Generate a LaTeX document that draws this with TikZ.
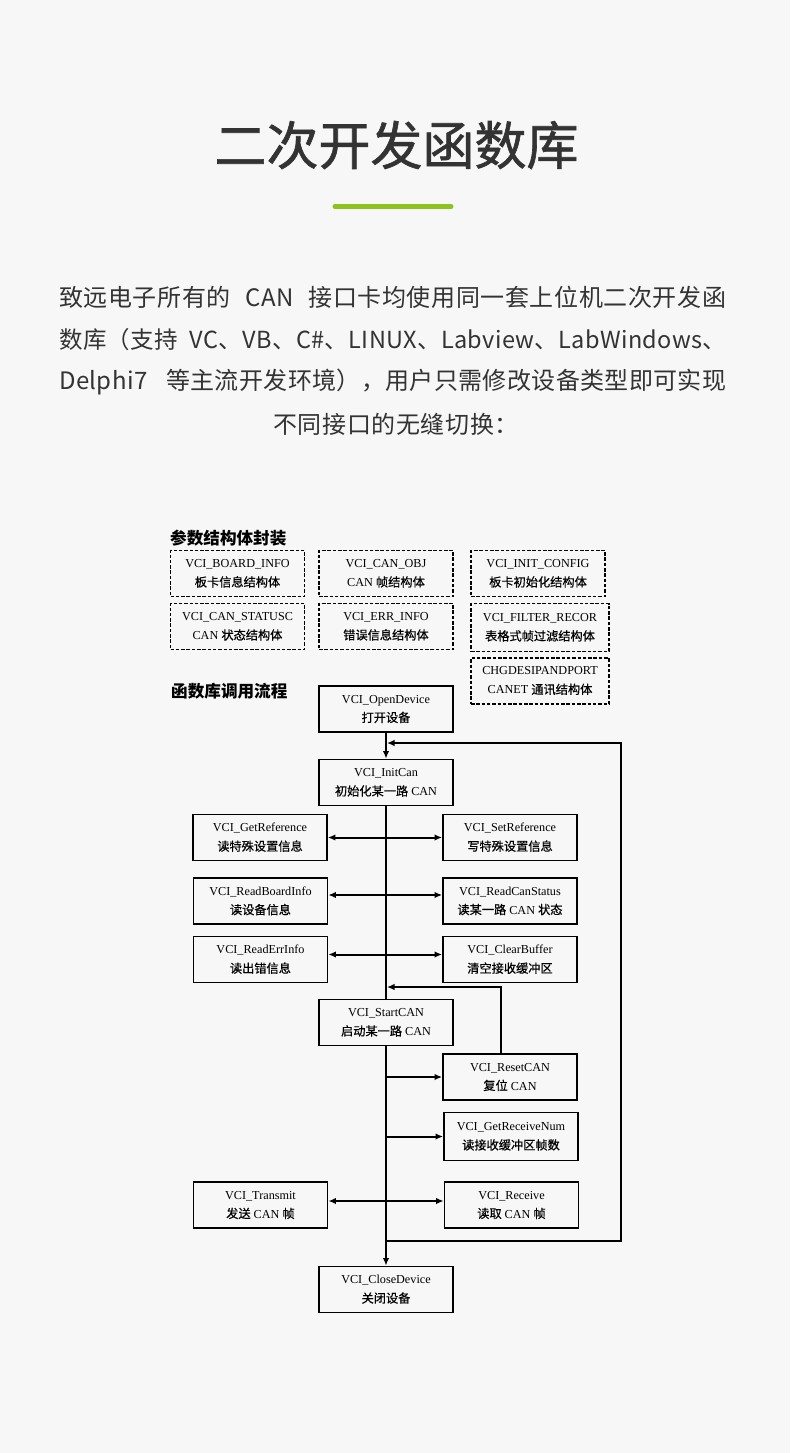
\documentclass[tikz,border=0pt]{standalone}
\usepackage{fontspec}
\setmainfont{Liberation Serif}
\newfontfamily\cjk{Noto Sans CJK SC}
\newfontfamily\cjkbody[LetterSpace=2.5]{Noto Sans CJK SC}
\newfontfamily\cjkbodytight[LetterSpace=1.5]{Noto Sans CJK SC}
\newfontfamily\cjktitle[FakeBold=1.2]{Noto Sans CJK SC}
\newfontfamily\cjkbox[FakeBold=0.6]{Noto Sans CJK SC}
\usetikzlibrary{arrows.meta}
\definecolor{bgcol}{RGB}{247,247,247}
\definecolor{txtcol}{RGB}{51,51,51}
\definecolor{barcol}{RGB}{141,194,31}
\newcommand{\zh}[1]{{\cjkbox #1}}

\begin{document}
\begin{tikzpicture}[x=1pt, y=-1pt,
  para/.style={inner sep=0pt, text=txtcol, font=\cjkbody\fontsize{24}{24}\selectfont},
  head/.style={anchor=west, inner sep=0pt, font=\cjk\bfseries\fontsize{16.6}{16.6}\selectfont},
  box/.style={draw, line width=1.8pt, align=center, inner sep=0pt, minimum width=134pt, minimum height=46pt, font=\fontsize{12.2}{19}\selectfont},
  dbox/.style={box, line width=1.9pt, dash pattern=on 3.5pt off 1.8pt},
  link/.style={line width=2pt, -{Latex[length=7.5pt,width=6.5pt]}},
  both/.style={link, {Latex[length=7.5pt,width=6.5pt]}-{Latex[length=7.5pt,width=6.5pt]}}]
\fill[bgcol] (0,0) rectangle (790,1453);
% Title and text
\node[text=txtcol, font=\cjktitle\fontsize{52}{52}\selectfont] (title) at (396.5,145) {二次开发函数库};
\draw[barcol, line width=5pt, line cap=round] (335,206.5) -- (451,206.5);
\node[para, anchor=west] (p1) at (59,297.5) {\makebox[667pt][s]{致远电子所有的 CAN 接口卡均使用同一套上位机二次开发函}};
\node[para, anchor=west, font=\cjkbodytight\fontsize{23.5}{23.5}\selectfont] (p2) at (59,340) {\makebox[667pt][s]{数库（支持 VC、VB、C\#、LINUX、Labview、LabWindows、}};
\node[para, anchor=west, font=\cjkbodytight\fontsize{24}{24}\selectfont] (p3) at (59,382) {\makebox[667pt][s]{Delphi7 \ 等主流开发环境），用户只需修改设备类型即可实现}};
\node[para] (p4) at (396,424) {不同接口的无缝切换：};
% Structures
\node[head] (h1) at (170,538) {参数结构体封装};
\node[dbox] (boardinfo) at (237.5,573.5) {VCI\_BOARD\_INFO\\\zh{板卡信息结构体}};
\node[dbox] (canobj) at (386,573.5) {VCI\_CAN\_OBJ\\CAN \zh{帧结构体}};
\node[dbox] (initcfg) at (538,573.5) {VCI\_INIT\_CONFIG\\\zh{板卡初始化结构体}};
\node[dbox] (canstatus) at (237.5,626.5) {VCI\_CAN\_STATUSC\\CAN \zh{状态结构体}};
\node[dbox] (errinfo) at (386,626.5) {VCI\_ERR\_INFO\\\zh{错误信息结构体}};
\node[dbox, minimum width=138pt, minimum height=48pt] (filter) at (540,627.5) {VCI\_FILTER\_RECOR\\\zh{表格式帧过滤结构体}};
\node[dbox, minimum width=138pt] (chgdes) at (540,681) {CHGDESIPANDPORT\\CANET \zh{通讯结构体}};
% Call flow
\node[head] (h2) at (171,691) {函数库调用流程};
\node[box] (opendev) at (386,709) {VCI\_OpenDevice\\\zh{打开设备}};
\node[box] (initcan) at (386,782.5) {VCI\_InitCan\\\zh{初始化某一路} CAN};
\node[box] (getref) at (260,837.5) {VCI\_GetReference\\\zh{读特殊设置信息}};
\node[box] (setref) at (510,837.5) {VCI\_SetReference\\\zh{写特殊设置信息}};
\node[box] (readboard) at (260.5,901) {VCI\_ReadBoardInfo\\\zh{读设备信息}};
\node[box] (readstatus) at (510,901) {VCI\_ReadCanStatus\\\zh{读某一路} CAN \zh{状态}};
\node[box] (readerr) at (260.5,959.5) {VCI\_ReadErrInfo\\\zh{读出错信息}};
\node[box] (clearbuf) at (510,959.5) {VCI\_ClearBuffer\\\zh{清空接收缓冲区}};
\node[box] (startcan) at (386,1022.5) {VCI\_StartCAN\\\zh{启动某一路} CAN};
\node[box] (resetcan) at (510,1077) {VCI\_ResetCAN\\\zh{复位} CAN};
\node[box, minimum height=48pt] (getrecv) at (511,1136.5) {VCI\_GetReceiveNum\\\zh{读接收缓冲区帧数}};
\node[box] (transmit) at (260.5,1205) {VCI\_Transmit\\\zh{发送} CAN \zh{帧}};
\node[box] (receive) at (511.5,1205) {VCI\_Receive\\\zh{读取} CAN \zh{帧}};
\node[box] (closedev) at (386,1289.5) {VCI\_CloseDevice\\\zh{关闭设备}};
% Loop points
\coordinate (loopin) at (387,743);
\coordinate (loopout) at (386,1241);
\coordinate (loopedge) at (621,743);
\coordinate (resetin) at (387,987);
% Main line
\draw[link] (opendev) -- (initcan);
\draw[line width=2pt] (initcan) -- (startcan);
\draw[link] (startcan) -- (closedev);
% Side calls
\draw[both] (getref) -- (setref);
\draw[both] ([yshift=6pt]readboard.east) -- ([yshift=6pt]readstatus.west);
\draw[both] ([yshift=5pt]readerr.east) -- ([yshift=5pt]clearbuf.west);
\draw[both] ([yshift=4pt]transmit.east) -- ([yshift=4pt]receive.west);
\draw[link] (initcan.south |- resetcan.west) -- (resetcan.west);
\draw[link] (initcan.south |- getrecv.west) -- (getrecv.west);
% Loops back
\draw[link] ([xshift=-9pt]resetcan.north) |- (resetin);
\draw[link] (loopout) -| (loopedge) -- (loopin);
\end{tikzpicture}
\end{document}
